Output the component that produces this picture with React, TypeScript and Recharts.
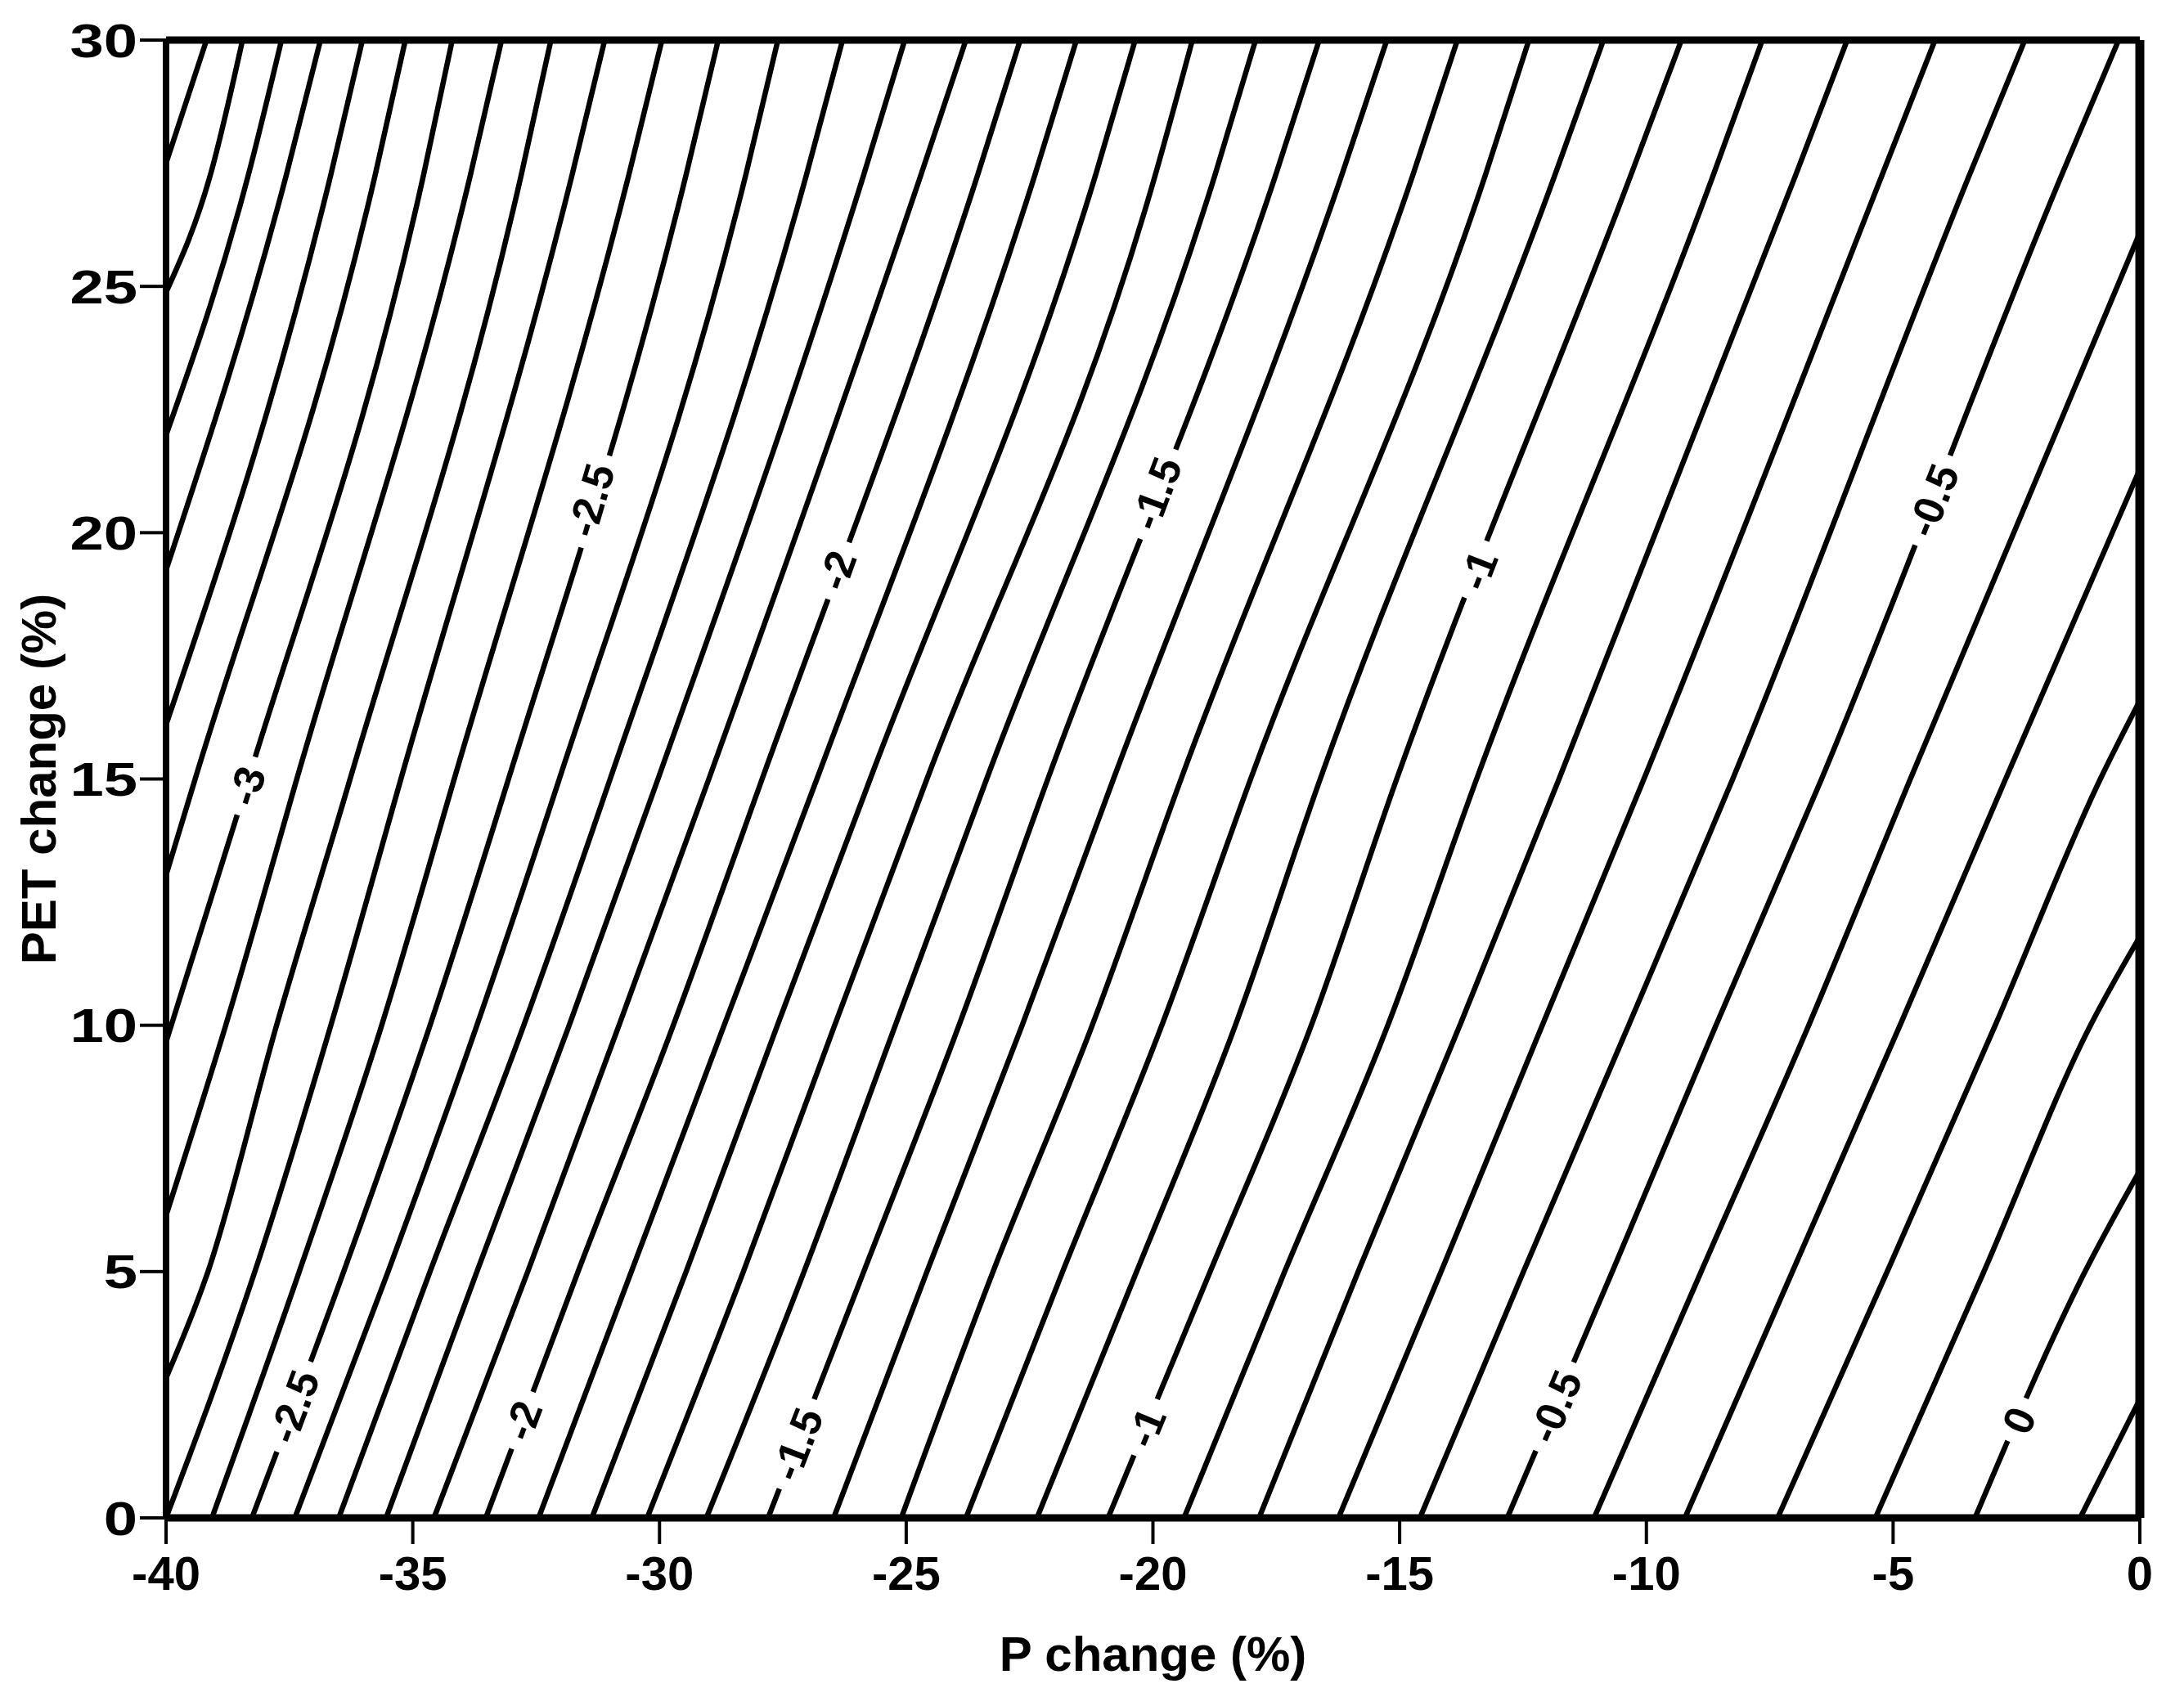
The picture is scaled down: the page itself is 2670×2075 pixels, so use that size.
import React from 'react';
import { ComposedChart, Line, Scatter, XAxis, YAxis } from 'recharts';

type P = [number, number];

const xTicks = [-40, -35, -30, -25, -20, -15, -10, -5, 0];
const yTicks = [0, 5, 10, 15, 20, 25, 30];

// contour lines, points read as [P change, PET change]
const cP01: P[] = [[-1.21, 0], [0, 2.41]];
const c000: P[] = [[-3.34, 0], [-1.11, 5], [0, 7.05]];
const cM01: P[] = [[-5.36, 0], [-3.16, 5], [-1.0, 10], [0, 11.8]];
const cM02: P[] = [[-7.34, 0], [-5.12, 5], [-2.93, 10], [-0.8, 15], [0, 16.59]];
const cM03: P[] = [[-9.22, 0], [-7.04, 5], [-4.86, 10], [-2.72, 15], [0, 21.29]];
const cM04: P[] = [[-11.06, 0], [-8.89, 5], [-6.71, 10], [-4.65, 15], [0, 26.09]];
const cM05: P[] = [[-12.82, 0], [-10.69, 5], [-8.59, 10], [-6.45, 15], [-1.58, 27.27], [-0.43, 30]];
const cM06: P[] = [[-14.59, 0], [-12.49, 5], [-10.36, 10], [-8.25, 15], [-3.45, 27.27], [-2.33, 30]];
const cM07: P[] = [[-16.24, 0], [-14.16, 5], [-12.11, 10], [-10.05, 15], [-5.22, 27.27], [-4.15, 30]];
const cM08: P[] = [[-17.85, 0], [-15.84, 5], [-13.78, 10], [-11.77, 15], [-6.97, 27.27], [-5.93, 30]];
const cM09: P[] = [[-19.37, 0], [-17.33, 5], [-15.24, 10], [-13.44, 15], [-8.64, 27.27], [-7.65, 30]];
const cM10: P[] = [[-20.91, 0], [-18.84, 5], [-16.79, 10], [-15.06, 15], [-10.31, 27.27], [-9.29, 30]];
const cM11: P[] = [[-22.35, 0], [-20.33, 5], [-18.33, 10], [-16.61, 15], [-11.85, 27.27], [-10.87, 30]];
const cM12: P[] = [[-23.79, 0], [-21.83, 5], [-19.82, 10], [-18.02, 15], [-13.26, 27.27], [-12.38, 30]];
const cM13: P[] = [[-25.1, 0], [-23.24, 5], [-21.23, 10], [-19.43, 15], [-14.73, 27.27], [-13.83, 30]];
const cM14: P[] = [[-26.47, 0], [-24.58, 5], [-22.65, 10], [-20.8, 15], [-16.17, 27.27], [-15.26, 30]];
const cM15: P[] = [[-27.8, 0], [-25.86, 5], [-23.93, 10], [-22.13, 15], [-17.51, 27.27], [-16.63, 30]];
const cM16: P[] = [[-29.05, 0], [-27.07, 5], [-25.22, 10], [-23.37, 15], [-18.74, 27.27], [-17.92, 30]];
const cM17: P[] = [[-30.25, 0], [-28.3, 5], [-26.45, 10], [-24.58, 15], [-19.95, 27.27], [-19.2, 30]];
const cM18: P[] = [[-31.37, 0], [-29.46, 5], [-27.61, 10], [-25.73, 15], [-21.16, 27.27], [-20.36, 30]];
const cM19: P[] = [[-32.45, 0], [-30.57, 5], [-28.69, 10], [-26.81, 15], [-22.39, 27.27], [-21.55, 30]];
const cM20: P[] = [[-33.52, 0], [-31.65, 5], [-29.72, 10], [-27.92, 15], [-23.55, 27.27], [-22.69, 30]];
const cM21: P[] = [[-34.57, 0], [-32.67, 5], [-30.82, 10], [-29.0, 15], [-24.7, 27.27], [-23.79, 30]];
const cM22: P[] = [[-35.54, 0], [-33.7, 5], [-31.83, 10], [-30.03, 15], [-25.86, 27.27], [-25.03, 30]];
const cM23: P[] = [[-36.5, 0], [-34.65, 5], [-32.75, 10], [-31.0, 15], [-27.02, 27.27], [-26.29, 30]];
const cM24: P[] = [[-37.39, 0], [-35.5, 5], [-33.7, 10], [-32.03, 15], [-28.25, 27.27], [-27.6, 30]];
const cM25: P[] = [[-38.26, 0], [-36.4, 5], [-34.65, 10], [-33.06, 15], [-29.46, 27.27], [-28.81, 30]];
const cM26: P[] = [[-39.07, 0], [-37.3, 5], [-35.63, 10], [-34.16, 15], [-30.62, 27.27], [-29.95, 30]];
const cM27: P[] = [[-40, 0], [-38.2, 5], [-36.66, 10], [-35.24, 15], [-31.77, 27.27], [-31.11, 30]];
const cM28: P[] = [[-40, 2.84], [-39.15, 5], [-37.76, 10], [-36.27, 15], [-32.8, 27.27], [-32.2, 30]];
const cM29: P[] = [[-40, 6.14], [-38.79, 10], [-37.35, 15], [-33.83, 27.27], [-33.2, 30]];
const cM30: P[] = [[-40, 9.66], [-38.33, 15], [-34.78, 27.27], [-34.2, 30]];
const cM31: P[] = [[-40, 13.05], [-39.41, 15], [-35.76, 27.27], [-35.15, 30]];
const cM32: P[] = [[-40, 16.1], [-36.66, 27.27], [-36.02, 30]];
const cM33: P[] = [[-40, 19.24], [-37.56, 27.27], [-36.87, 30]];
const cM34: P[] = [[-40, 21.98], [-38.33, 27.27], [-37.66, 30]];
const cM35: P[] = [[-40, 24.88], [-39.1, 27.27], [-38.45, 30]];
const cM36: P[] = [[-40, 27.5], [-39.18, 30]];

const levels = [0.1, 0, -0.1, -0.2, -0.3, -0.4, -0.5, -0.6, -0.7, -0.8, -0.9, -1.0, -1.1, -1.2, -1.3, -1.4, -1.5, -1.6, -1.7, -1.8, -1.9, -2.0, -2.1, -2.2, -2.3, -2.4, -2.5, -2.6, -2.7, -2.8, -2.9, -3.0, -3.1, -3.2, -3.3, -3.4, -3.5, -3.6];
const contourPts: P[][] = [cP01, c000, cM01, cM02, cM03, cM04, cM05, cM06, cM07, cM08, cM09, cM10, cM11, cM12, cM13, cM14, cM15, cM16, cM17, cM18, cM19, cM20, cM21, cM22, cM23, cM24, cM25, cM26, cM27, cM28, cM29, cM30, cM31, cM32, cM33, cM34, cM35, cM36];

// contour labels: text, contour level it sits on, PET position
const labelTexts = ['-3', '-2.5', '-2', '-1.5', '-1', '-0.5', '-2.5', '-2', '-1.5', '-1', '-0.5', '0'];
const labelLevels = [-3.0, -2.5, -2.0, -1.5, -1.0, -0.5, -2.5, -2.0, -1.5, -1.0, -0.5, 0];
const labelY = [14.86, 20.66, 19.24, 20.8, 19.24, 20.66, 2.26, 1.98, 1.5, 1.84, 2.26, 1.98];

const FONT = '"Liberation Sans", Arial, Helvetica, sans-serif';
const CHART_W = 2654;
const CHART_H = 2059;
const MARGIN = { top: 11, right: 6, bottom: 11, left: 5 };
const PLOT_W = 2413;
const PLOT_H = 1807;

const contours = levels.map((lv, i) => ({
  level: lv,
  data: contourPts[i].map(([x, y]) => ({ x, y })),
}));

function onLine(pts: P[], y: number) {
  for (let i = 0; i < pts.length - 1; i++) {
    const [x0, y0] = pts[i];
    const [x1, y1] = pts[i + 1];
    if (y >= y0 && y <= y1) {
      const t = (y - y0) / (y1 - y0);
      const ang = (Math.atan2((y1 - y0) * (PLOT_H / 30), (x1 - x0) * (PLOT_W / 40)) * 180) / Math.PI;
      return { x: x0 + t * (x1 - x0), angle: ang };
    }
  }
  return { x: pts[0][0], angle: 70 };
}

const labelData = labelTexts.map((t, i) => {
  const idx = levels.findIndex((l) => Math.abs(l - labelLevels[i]) < 1e-6);
  const r = onLine(contourPts[idx], labelY[i]);
  return { x: r.x, y: labelY[i], text: t, angle: r.angle };
});

const charW: Record<string, number> = { '-': 0.333, '.': 0.278 };
const textW = (s: string, fs: number) =>
  s.split('').reduce((a, c) => a + (charW[c] ?? 0.556), 0) * fs;

const LABEL_FS = 52;

const LabelShape = (props: any) => {
  const { cx, cy, payload } = props;
  if (cx == null || cy == null || !payload) return null;
  const w = textW(payload.text, LABEL_FS) + 28;
  const h = 46;
  return (
    <g transform={`translate(${cx},${cy}) rotate(${-payload.angle})`}>
      <rect x={-w / 2} y={-h / 2} width={w} height={h} fill="#ffffff" />
      <text
        x={0}
        y={0}
        dy="0.36em"
        textAnchor="middle"
        fontSize={LABEL_FS}
        fontWeight="bold"
        fontFamily={FONT}
        fill="#000"
      >
        {payload.text}
      </text>
    </g>
  );
};

const tickStyle = { fill: '#000', fontSize: 58, fontWeight: 'bold', fontFamily: FONT };

const YTick = (props: any) => {
  const { x, y, payload } = props;
  return (
    <g transform={`translate(${x},${y})`}>
      <text
        transform="scale(1.28,1)"
        x={0}
        y={0}
        dy="0.355em"
        textAnchor="end"
        fill="#000"
        fontSize={58}
        fontWeight="bold"
        fontFamily={FONT}
      >
        {payload.value}
      </text>
    </g>
  );
};

export default function App() {
  return (
    <div style={{ width: CHART_W, height: CHART_H, background: '#fff' }}>
      <ComposedChart width={CHART_W} height={CHART_H} margin={MARGIN}>
        <XAxis
          xAxisId="b"
          dataKey="x"
          type="number"
          domain={[-40, 0]}
          ticks={xTicks}
          allowDataOverflow
          orientation="bottom"
          height={200}
          tickSize={32}
          tickMargin={15}
          tick={tickStyle}
          axisLine={{ stroke: '#000', strokeWidth: 9 }}
          tickLine={{ stroke: '#000', strokeWidth: 4 }}
          interval={0}
          label={{
            value: 'P change (%)',
            position: 'insideBottom',
            offset: 13,
            style: { fill: '#000', fontSize: 60, fontWeight: 'bold', fontFamily: FONT },
          }}
        />
        <XAxis
          xAxisId="t"
          dataKey="x"
          type="number"
          domain={[-40, 0]}
          ticks={xTicks}
          allowDataOverflow
          orientation="top"
          height={30}
          tickSize={32}
          tick={false}
          axisLine={{ stroke: '#000', strokeWidth: 9 }}
          tickLine={{ stroke: '#000', strokeWidth: 4 }}
          interval={0}
        />
        <YAxis
          yAxisId="l"
          dataKey="y"
          type="number"
          domain={[0, 30]}
          ticks={yTicks}
          allowDataOverflow
          orientation="left"
          width={190}
          tickSize={32}
          tickMargin={3}
          tick={<YTick />}
          axisLine={{ stroke: '#000', strokeWidth: 8 }}
          tickLine={{ stroke: '#000', strokeWidth: 4 }}
          interval={0}
          label={{
            value: 'PET change (%)',
            angle: -90,
            position: 'insideLeft',
            offset: 34,
            style: { fill: '#000', fontSize: 60, fontWeight: 'bold', fontFamily: FONT, textAnchor: 'middle' },
          }}
        />
        <YAxis
          yAxisId="r"
          dataKey="y"
          type="number"
          domain={[0, 30]}
          ticks={yTicks}
          allowDataOverflow
          orientation="right"
          width={40}
          tickSize={32}
          tick={false}
          axisLine={{ stroke: '#000', strokeWidth: 11 }}
          tickLine={{ stroke: '#000', strokeWidth: 4 }}
          interval={0}
        />
        {contours.map((c) => (
          <Line
            key={`lv${c.level}`}
            xAxisId="b"
            yAxisId="l"
            data={c.data}
            dataKey="y"
            type="monotone"
            stroke="#000"
            strokeWidth={6.5}
            dot={false}
            activeDot={false}
            isAnimationActive={false}
            legendType="none"
          />
        ))}
        <Scatter
          xAxisId="b"
          yAxisId="l"
          data={labelData}
          dataKey="y"
          shape={LabelShape}
          isAnimationActive={false}
          legendType="none"
        />
      </ComposedChart>
    </div>
  );
}
